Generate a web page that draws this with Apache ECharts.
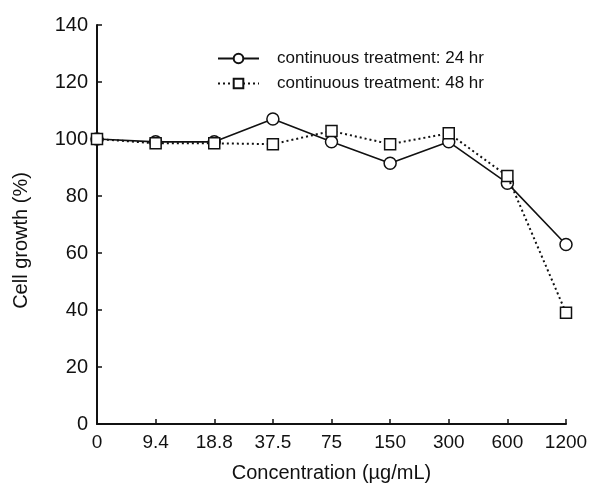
<!DOCTYPE html>
<html>
<head>
<meta charset="utf-8">
<script src="https://cdn.jsdelivr.net/npm/echarts@6/dist/echarts.min.js"></script>
<style>
  html, body { margin: 0; padding: 0; background: #fff; }
  #chart { width: 597px; height: 491px; }
</style>
</head>
<body>
<div id="chart"></div>
<script>
// concentration categories (µg/mL)
var concentrations = ['0', '9.4', '18.8', '37.5', '75', '150', '300', '600', '1200'];
// cell growth (%)
var growth24 = [100, 99, 99, 107, 99, 91.5, 99, 84.5, 63];
var growth48 = [100, 98.5, 98.5, 98.2, 102.8, 98.2, 102, 87, 39];
var yTicks = [0, 140, 20];

var fontFamily = '"Liberation Sans", Arial, sans-serif';

var myChart = echarts.init(document.getElementById('chart'));
var option = {
    animation: false,
    backgroundColor: '#fff',
    grid: {
        left: 97,
        right: 31,
        top: 25,
        bottom: 67
    },
    legend: {
        orient: 'vertical',
        left: 217,
        top: 50,
        padding: 0,
        itemWidth: 41,
        itemHeight: 12,
        itemGap: 8,
        textStyle: {
            fontFamily: fontFamily,
            fontSize: 17,
            color: '#111',
            padding: [0, 0, 0, 13]
        },
        data: ['continuous treatment: 24 hr', 'continuous treatment: 48 hr']
    },
    xAxis: {
        type: 'category',
        boundaryGap: false,
        data: concentrations,
        name: 'Concentration (µg/mL)',
        nameLocation: 'middle',
        nameGap: 39,
        nameTextStyle: { fontFamily: fontFamily, fontSize: 20, color: '#111' },
        axisLine: { lineStyle: { color: '#111', width: 2 } },
        axisTick: { inside: true, length: 5, lineStyle: { color: '#111', width: 1.5 } },
        axisLabel: { fontFamily: fontFamily, fontSize: 19, color: '#111', margin: 9 },
        splitLine: { show: false }
    },
    yAxis: {
        type: 'value',
        min: yTicks[0],
        max: yTicks[1],
        interval: yTicks[2],
        name: 'Cell growth (%)',
        nameLocation: 'middle',
        nameGap: 66,
        nameTextStyle: {
            fontFamily: fontFamily,
            fontSize: 20,
            color: '#111',
            padding: [0, 32, 0, 0]
        },
        axisLine: { show: true, lineStyle: { color: '#111', width: 2 } },
        axisTick: { show: true, inside: true, length: 5, lineStyle: { color: '#111', width: 1.5 } },
        axisLabel: { fontFamily: fontFamily, fontSize: 20, color: '#111', margin: 9 },
        splitLine: { show: false }
    },
    series: [
        {
            name: 'continuous treatment: 24 hr',
            type: 'line',
            data: growth24,
            symbol: 'circle',
            symbolSize: 12,
            itemStyle: { color: '#fff', borderColor: '#111', borderWidth: 1.5 },
            lineStyle: { color: '#111', width: 1.6, type: 'solid' },
            z: 2
        },
        {
            name: 'continuous treatment: 48 hr',
            type: 'line',
            data: growth48,
            symbol: 'rect',
            symbolSize: 11,
            itemStyle: { color: '#fff', borderColor: '#111', borderWidth: 1.5 },
            lineStyle: { color: '#111', width: 2, type: [2, 3] },
            z: 3
        }
    ]
};
myChart.setOption(option);
</script>
</body>
</html>
